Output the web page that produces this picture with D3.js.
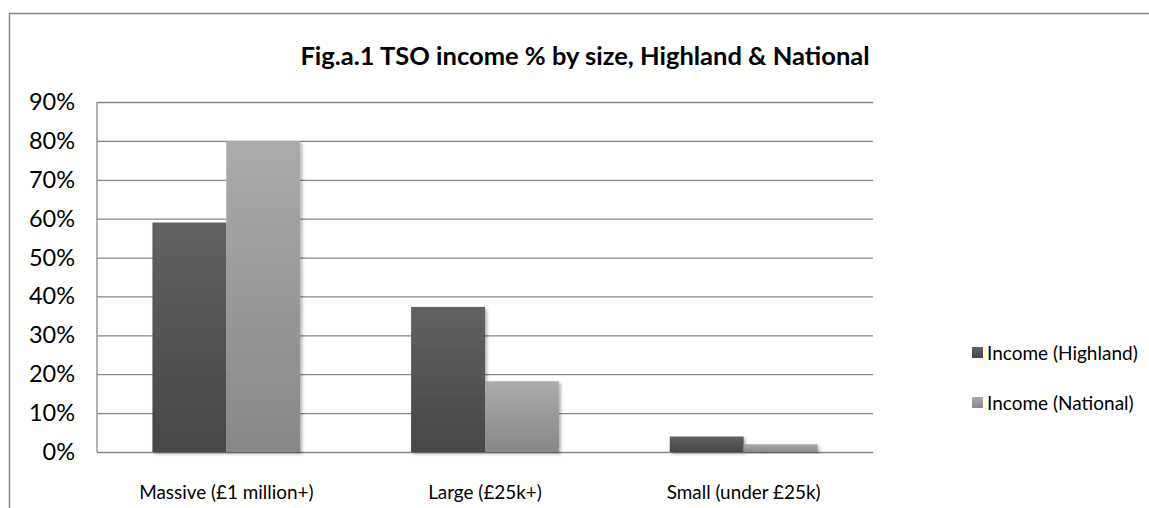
<!DOCTYPE html>
<html>
<head>
<meta charset="utf-8">
<script src="https://cdn.jsdelivr.net/npm/d3@7"></script>
<style>
  html, body { margin: 0; padding: 0; background: #fff; }
  svg { display: block; font-family: Lato, "Open Sans", sans-serif; }
</style>
</head>
<body>
<svg id="chart" width="1149" height="508"></svg>
<script>
// Income share by organisation size
const categories = ["Massive (£1 million+)", "Large (£25k+)", "Small (under £25k)"];
const seriesNames = ["Income (Highland)", "Income (National)"];
const highland = [0.59, 0.373, 0.04];
const national = [0.80, 0.182, 0.02];
const yTicks = [0, 0.1, 0.2, 0.3, 0.4, 0.5, 0.6, 0.7, 0.8, 0.9];
const title = "Fig.a.1 TSO income % by size, Highland & National";

const svg = d3.select("#chart");
const W = 1149, H = 508;
const plot = { left: 97, right: 873, top: 102, bottom: 452 };

// gradients and bar shadow
const defs = svg.append("defs");
const grads = [
  { id: "g0", top: "#616161", bottom: "#474747" },
  { id: "g1", top: "#ababab", bottom: "#878787" }
];
grads.forEach(g => {
  const lg = defs.append("linearGradient").attr("id", g.id)
    .attr("x1", 0).attr("y1", 0).attr("x2", 0).attr("y2", 1);
  lg.append("stop").attr("offset", "0%").attr("stop-color", g.top);
  lg.append("stop").attr("offset", "100%").attr("stop-color", g.bottom);
});
const f = defs.append("filter").attr("id", "shadow")
  .attr("x", "-10%").attr("y", "-10%").attr("width", "130%").attr("height", "130%");
f.append("feDropShadow").attr("dx", 2).attr("dy", 2).attr("stdDeviation", 1.8)
  .attr("flood-color", "#000").attr("flood-opacity", 0.3);

// outer frame
svg.append("path")
  .attr("d", `M9.5,${H} V13.5 H${W}`)
  .attr("fill", "none").attr("stroke", "#868686").attr("stroke-width", 1.5);

const x0 = d3.scaleBand().domain(categories).range([plot.left, plot.right]).padding(0);
const y = d3.scaleLinear().domain([0, 0.9]).range([plot.bottom, plot.top]);

// gridlines and percentage labels
const yAxis = d3.axisLeft(y).tickValues(yTicks).tickFormat(d3.format(".0%"))
  .tickSize(-(plot.right - plot.left)).tickPadding(10);
const gy = svg.append("g").attr("transform", `translate(${plot.left},0)`).call(yAxis);
gy.select(".domain").remove();
gy.selectAll(".tick line").attr("stroke", "#868686").attr("stroke-width", 1.3);
gy.selectAll(".tick text").attr("fill", "#000").attr("font-size", 23.5)
  .attr("font-family", "Lato, sans-serif").attr("x", -22);

// left axis line
svg.append("line")
  .attr("x1", plot.left).attr("x2", plot.left)
  .attr("y1", plot.top).attr("y2", plot.bottom)
  .attr("stroke", "#868686").attr("stroke-width", 1.3);

// bars
const bw = x0.bandwidth() / 3.5;
const data = categories.map((c, i) => ({ c, vals: [highland[i], national[i]] }));
const groups = svg.append("g").selectAll("g").data(data).join("g")
  .attr("transform", d => `translate(${x0(d.c) + x0.bandwidth() / 2 - bw},0)`);
groups.selectAll("rect").data(d => d.vals.map((v, k) => ({ v, k }))).join("rect")
  .attr("x", d => d.k * bw)
  .attr("y", d => y(d.v))
  .attr("width", bw)
  .attr("height", d => y(0) - y(d.v))
  .attr("fill", d => `url(#g${d.k})`)
  .attr("filter", "url(#shadow)");

// category labels
const xAxis = d3.axisBottom(x0).tickSize(0).tickPadding(34);
const gx = svg.append("g").attr("transform", `translate(0,${plot.bottom})`).call(xAxis);
gx.select(".domain").remove();
gx.selectAll(".tick text").attr("fill", "#000").attr("font-size", 18.9)
  .attr("font-family", "Lato, sans-serif");

// title
svg.append("text").attr("x", 585).attr("y", 65)
  .attr("text-anchor", "middle").attr("font-weight", "bold").attr("font-size", 25.5)
  .text(title);

// legend
const lg = svg.append("g").attr("transform", "translate(972,353)");
seriesNames.forEach((s, i) => {
  const row = lg.append("g").attr("transform", `translate(0,${i * 50})`);
  row.append("rect").attr("x", 0).attr("y", -6).attr("width", 11).attr("height", 11)
    .attr("fill", `url(#g${i})`);
  row.append("text").attr("x", 15).attr("y", 0).attr("dy", "0.35em")
    .attr("font-size", 19).text(s);
});
</script>
</body>
</html>
